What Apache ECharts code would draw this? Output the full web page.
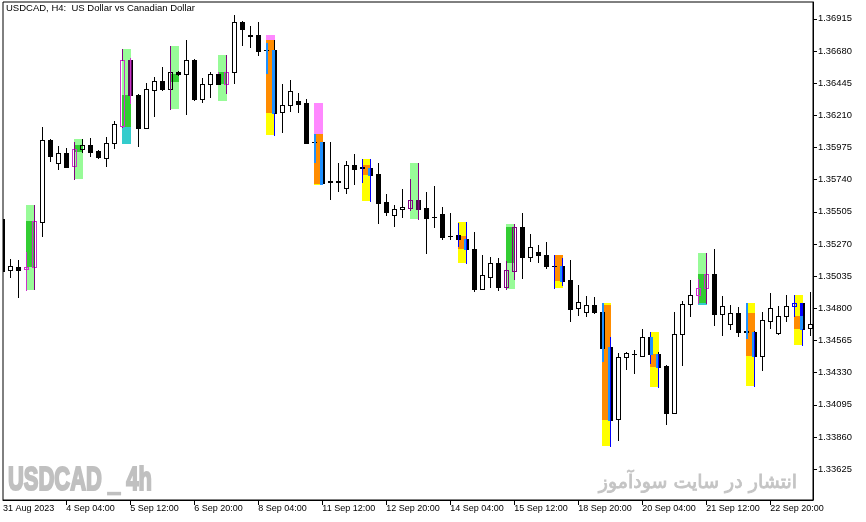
<!DOCTYPE html>
<html><head><meta charset="utf-8">
<script src="https://cdn.jsdelivr.net/npm/echarts@6/dist/echarts.min.js"></script>
<style>html,body{margin:0;padding:0;background:#fff}#c{width:866px;height:522px}</style>
</head><body><div id="c"></div>
<script>
// ---- data ----
const tickBars = [0, 8, 16, 24, 32, 40, 48, 56, 64, 72, 80, 88, 96];
const tickLabels = ['31 Aug 2023','4 Sep 04:00','5 Sep 12:00','6 Sep 20:00','8 Sep 04:00','11 Sep 12:00','12 Sep 20:00','14 Sep 04:00','15 Sep 12:00','18 Sep 20:00','20 Sep 04:00','21 Sep 12:00','22 Sep 20:00'];
const priceTicks = [1.33625,1.33860,1.34095,1.34330,1.34565,1.34800,1.35035,1.35270,1.35505,1.35740,1.35975,1.36210,1.36445,1.36680,1.36915];

const opens = [1.35453,1.35078,1.35100,1.35085,1.35100,1.35433,1.36030,1.35860,1.35933,1.35840,
1.35964,1.35994,1.35950,1.35896,1.36006,1.36135,1.36613,1.36359,1.36120,1.36396,
1.36459,1.36401,1.36530,1.36513,1.36615,1.36332,1.36437,1.36513,1.36442,1.36525,
1.36891,1.36794,1.36798,1.36688,1.36688,1.36233,1.36284,1.36318,1.36301,1.36016,
1.36016,1.35727,1.35727,1.35677,1.35847,1.35829,1.35828,1.35782,1.35575,1.35480,
1.35524,1.35535,1.35592,1.35531,1.35467,1.35489,1.35332,1.35336,1.35307,1.35233,
1.34943,1.35031,1.35129,1.34958,1.35075,1.35394,1.35177,1.35212,1.35190,1.35113,
1.35111,1.35007,1.34800,1.34771,1.34822,1.34773,1.34519,1.33989,1.34442,1.34470,
1.34453,1.34590,1.34468,1.34378,1.34037,1.34610,1.34829,1.34895,1.34946,1.35051,
1.34760,1.34683,1.34763,1.34634,1.34627,1.34453,1.34707,1.34617,1.34744,1.34815,
1.34839,1.34654];
const highs = [1.35460,1.35160,1.35153,1.35214,1.35555,1.36127,1.36038,1.35989,1.35970,1.36018,
1.36038,1.36047,1.35957,1.36054,1.36171,1.36695,1.36630,1.36367,1.36445,1.36489,
1.36562,1.36720,1.36535,1.36761,1.36622,1.36483,1.36530,1.36527,1.36652,1.36944,
1.36900,1.36864,1.36891,1.36739,1.36761,1.36440,1.36469,1.36374,1.36332,1.36076,
1.36018,1.36016,1.35862,1.35879,1.35928,1.35891,1.35891,1.35862,1.35636,1.35555,
1.35672,1.35745,1.35862,1.35650,1.35694,1.35540,1.35494,1.35426,1.35431,1.35358,
1.35190,1.35175,1.35170,1.35146,1.35416,1.35497,1.35343,1.35263,1.35285,1.35190,
1.35170,1.35153,1.34970,1.34888,1.34880,1.34837,1.34592,1.34471,1.34483,1.34495,
1.34649,1.34627,1.34480,1.34383,1.34773,1.34853,1.35007,1.35012,1.35204,1.35233,
1.34890,1.34824,1.34809,1.34839,1.34634,1.34773,1.34914,1.34817,1.34897,1.34897,
1.34841,1.34919];
const lows = [1.35073,1.35031,1.34885,1.34934,1.34941,1.35331,1.35879,1.35816,1.35829,1.35745,
1.35943,1.35913,1.35899,1.35842,1.35972,1.36125,1.36303,1.35989,1.36114,1.36208,
1.36396,1.36259,1.36505,1.36218,1.36323,1.36308,1.36347,1.36440,1.36376,1.36449,
1.36725,1.36712,1.36652,1.36522,1.36067,1.36091,1.36244,1.36237,1.36008,1.35872,
1.35709,1.35601,1.35657,1.35643,1.35709,1.35723,1.35584,1.35426,1.35484,1.35404,
1.35470,1.35519,1.35453,1.35206,1.35392,1.35307,1.35304,1.35258,1.35131,1.34929,
1.34938,1.34958,1.34934,1.34941,1.35014,1.35021,1.35146,1.35141,1.35097,1.34951,
1.34970,1.34709,1.34751,1.34746,1.34763,1.34415,1.33796,1.33837,1.34358,1.34329,
1.34451,1.34398,1.34225,1.33952,1.34035,1.34388,1.34744,1.34837,1.34837,1.34680,
1.34607,1.34651,1.34597,1.34585,1.34234,1.34349,1.34654,1.34615,1.34709,1.34744,
1.34532,1.34607];
const closes = [1.35075,1.35107,1.35082,1.35100,1.35438,1.36030,1.35915,1.35933,1.35835,1.35964,
1.35994,1.35945,1.35904,1.36006,1.36145,1.36613,1.36359,1.36120,1.36401,1.36459,
1.36401,1.36530,1.36513,1.36615,1.36328,1.36437,1.36513,1.36442,1.36525,1.36891,
1.36844,1.36790,1.36683,1.36686,1.36228,1.36284,1.36388,1.36296,1.36011,1.36012,
1.35716,1.35723,1.35723,1.35845,1.35820,1.35826,1.35774,1.35572,1.35502,1.35524,
1.35538,1.35592,1.35524,1.35462,1.35464,1.35323,1.35328,1.35304,1.35233,1.34941,
1.35041,1.35129,1.34958,1.35080,1.35394,1.35177,1.35248,1.35187,1.35111,1.35109,
1.35000,1.34797,1.34844,1.34822,1.34771,1.34512,1.33983,1.34444,1.34471,1.34466,
1.34588,1.34464,1.34371,1.34037,1.34610,1.34829,1.34895,1.34946,1.35051,1.34760,
1.34815,1.34763,1.34629,1.34630,1.34451,1.34714,1.34800,1.34741,1.34815,1.34839,
1.34651,1.34683];

// indicator zones: [first bar of pattern, zone kind, top price, bottom price]
const zones = [
 [3,'gOuter',1.35555,1.34934],[3,'gCore',1.35438,1.35102],
 [9,'gOuter',1.36038,1.35745],[9,'gCore',1.35994,1.35943],
 [15,'gOuter',1.36695,1.36359],[15,'gCore',1.36359,1.36123],[15,'gTail',1.36123,1.36003],
 [21,'gOuter',1.36720,1.36259],[21,'gCore',1.36513,1.36456],
 [27,'gOuter',1.36652,1.36318],[27,'gCore',1.36527,1.36437],
 [33,'rCap',1.36798,1.36761],[33,'rCore',1.36761,1.36228],[33,'rOuter',1.36228,1.36067],
 [39,'rCap',1.36301,1.36076],[39,'rCore',1.36076,1.35711],[39,'rOuter',1.35711,1.35701],
 [45,'rOuter',1.35891,1.35584],[45,'rCore',1.35847,1.35774],
 [51,'gOuter',1.35862,1.35453],
 [57,'rOuter',1.35431,1.35131],[57,'rCore',1.35331,1.35233],
 [63,'gOuter',1.35416,1.34941],[63,'gCore',1.35396,1.35129],
 [69,'rCore',1.35190,1.35000],[69,'rOuter',1.35000,1.34951],
 [75,'rOuter',1.34837,1.33796],[75,'rCore',1.34824,1.33983],
 [81,'rOuter',1.34627,1.34225],[81,'rCore',1.34464,1.34371],
 [87,'gOuter',1.35204,1.35051],[87,'gCore',1.35051,1.34837],[87,'gTail',1.34837,1.34824],
 [93,'rOuter',1.34839,1.34234],[93,'rCore',1.34766,1.34451],
 [99,'rOuter',1.34897,1.34532],[99,'rCore',1.34744,1.34651]
];
// indicator edge marks: [first bar, side, kind, top price, bottom price]
const edges = [
 [3,'L','mag',1.35214,1.34934],[3,'R','pur',1.35555,1.34941],
 [9,'L','pur',1.36018,1.35745],
 [15,'L','pur',1.36695,1.36615],[15,'R','mag',1.36630,1.36303],
 [21,'L','pur',1.36720,1.36259],
 [27,'R','pur',1.36652,1.36376],
 [33,'L','dodger',1.36739,1.36522],[33,'RB','dodger',1.36688,1.36228],[33,'R','blue',1.36228,1.36067],
 [39,'L','dodger',1.36076,1.35872],[39,'RB','dodger',1.36016,1.35711],
 [45,'L','blue',1.35891,1.35723],[45,'RB','dodger',1.35828,1.35774],[45,'R','blue',1.35891,1.35584],
 [51,'L','pur',1.35745,1.35519],[51,'R','pur',1.35862,1.35453],
 [57,'L','blue',1.35426,1.35258],[57,'RB','dodger',1.35307,1.35233],[57,'R','blue',1.35431,1.35131],
 [63,'L','pur',1.35146,1.34941],[63,'R','pur',1.35416,1.35014],
 [69,'L','blue',1.35190,1.34951],[69,'RB','dodger',1.35111,1.35000],[69,'R','blue',1.35170,1.34970],
 [75,'L','dodger',1.34837,1.34415],[75,'RB','dodger',1.34519,1.33983],[75,'R','blue',1.34592,1.33796],
 [81,'L','blue',1.34627,1.34398],[81,'LB','dodger',1.34590,1.34464],[81,'RB','dodger',1.34468,1.34371],[81,'R','blue',1.34468,1.34225],
 [87,'L','mag',1.35012,1.34837],[87,'R','pur',1.35204,1.34837],
 [93,'L','dodger',1.34839,1.34585],[93,'RB','dodger',1.34627,1.34451],[93,'R','blue',1.34627,1.34234],
 [99,'L','blue',1.34897,1.34744],[99,'RB','blue',1.34839,1.34744],[99,'RB','dodger',1.34744,1.34651],[99,'R','blue',1.34651,1.34532]
];

// ---- styles ----
const MAG = '#CC33CC', PUR = '#800080';
const zoneColors = {gOuter:'#98FB98', gCore:'#32CD32', gTail:'#33CCCC', rOuter:'#FFFF00', rCore:'#FF8C00', rCap:'#FF88FF'};
const edgeColors = {mag:MAG, pur:PUR, dodger:'#1E90FF', blue:'#0000FF'};
const candleLook = {
 3:{line:MAG}, 4:{line:MAG, wick:PUR}, 9:{line:MAG}, 15:{line:MAG, wick:PUR},
 16:{fill:'#5C0F5C'}, 27:{line:MAG}, 28:{line:MAG, wick:PUR},
 51:{line:PUR}, 52:{fill:'#4A0A4A'}, 63:{line:PUR}, 64:{line:PUR},
 87:{line:MAG}, 88:{line:MAG}, 99:{line:'#0000FF'}
};

const bars = opens.map((o, i) => [i, o, highs[i], lows[i], closes[i]]);
const chart = echarts.init(document.getElementById('c'), null, {renderer: 'canvas'});
const FONT = 'Liberation Sans';

function px(api, k, p) { return api.coord([k, p]); }

function renderCandle(params, api) {
  const k = api.value(0), o = api.value(1), h = api.value(2), l = api.value(3), c = api.value(4);
  const cx = Math.floor(px(api, k, o)[0] + 1e-6);
  const yH = Math.round(px(api, k, h)[1]), yL = Math.round(px(api, k, l)[1]);
  const yO = px(api, k, o)[1], yC = px(api, k, c)[1];
  const look = candleLook[k] || {};
  const line = look.line || '#000';
  const wick = look.wick || line;
  const top = Math.round(Math.min(yO, yC)), bot = Math.round(Math.max(yO, yC));
  const ch = [];
  const R = (x, y, w, hh, f) => ch.push({type: 'rect', shape: {x: x, y: y, width: w, height: hh}, style: {fill: f}});
  if (bot - top < 1) {
    R(cx, yH, 1, yL - yH + 1, wick);
    R(cx - 2, top, 5, 1, line);
  } else if (c < o) {
    R(cx, yH, 1, yL - yH + 1, wick);
    R(cx - 2, top, 5, bot - top + 1, look.fill || '#000');
    if (look.fill) R(cx + 2, top, 1, bot - top + 1, '#000');
  } else {
    if (top > yH) R(cx, yH, 1, top - yH, wick);
    if (yL > bot) R(cx, bot + 1, 1, yL - bot, wick);
    R(cx - 2, top, 5, 1, line);
    R(cx - 2, bot, 5, 1, line);
    R(cx - 2, top, 1, bot - top + 1, line);
    R(cx + 2, top, 1, bot - top + 1, line);
  }
  return {type: 'group', children: ch};
}

function renderZone(params, api) {
  const z = zones[params.dataIndex];
  const k = api.value(0);
  const x0 = Math.floor(px(api, k, api.value(1))[0] + 1e-6);
  const x1 = Math.floor(px(api, k + 1, api.value(1))[0] + 1e-6);
  const yT = Math.round(px(api, k, api.value(1))[1]);
  const yB = Math.round(px(api, k, api.value(2))[1]);
  return {type: 'rect', shape: {x: x0, y: yT, width: x1 + 1 - x0, height: Math.max(1, yB - yT)}, style: {fill: zoneColors[z[1]]}};
}

function renderEdge(params, api) {
  const e = edges[params.dataIndex];
  const k = api.value(0);
  const x0 = Math.floor(px(api, k, api.value(1))[0] + 1e-6);
  const x1 = Math.floor(px(api, k + 1, api.value(1))[0] + 1e-6);
  const yT = Math.round(px(api, k, api.value(1))[1]);
  const yB = Math.round(px(api, k, api.value(2))[1]);
  let x, w;
  if (e[1] === 'L') { x = x0; w = e[2] === 'dodger' ? 2 : 1; }
  else if (e[1] === 'LB') { x = x0; w = 3; }
  else if (e[1] === 'RB') { x = x1 - 2; w = 3; }
  else { x = x1; w = 1; }
  return {type: 'rect', shape: {x: x, y: yT, width: w, height: yB - yT + 1}, style: {fill: edgeColors[e[2]]}};
}

const labelValues = [0.1].concat(tickBars.slice(1));

chart.setOption({
  animation: false,
  backgroundColor: '#fff',
  grid: {left: 3, right: 53, top: 2, bottom: 22, show: true, borderColor: '#000', borderWidth: 1},
  xAxis: {
    type: 'value', min: 0.0875, max: 101.3375,
    axisLine: {show: true, lineStyle: {color: '#000', width: 1}},
    axisTick: {show: true, customValues: tickBars.slice(1), length: 5, lineStyle: {color: '#000'}},
    axisLabel: {customValues: labelValues, align: 'left', margin: 4, fontSize: 9, fontFamily: FONT, color: '#000',
      formatter: v => tickLabels[tickBars.indexOf(Math.round(v))] || ''},
    splitLine: {show: false}
  },
  yAxis: {
    type: 'value', position: 'right', min: 1.33400, max: 1.37038,
    axisLine: {show: true, lineStyle: {color: '#000', width: 1}},
    axisTick: {show: true, customValues: priceTicks, length: 4, lineStyle: {color: '#000'}},
    axisLabel: {customValues: priceTicks, margin: 5, fontSize: 9.4, fontFamily: FONT, color: '#000',
      formatter: v => v.toFixed(5)},
    splitLine: {show: false}
  },
  graphic: [
    {type: 'text', x: 6, y: 3, style: {text: 'USDCAD, H4:  US Dollar vs Canadian Dollar', fontSize: 9.5, fontFamily: FONT, fill: '#000', verticalAlign: 'top'}},
    {type: 'text', x: 8, y: 481, scaleX: 0.645, style: {text: 'USDCAD _ 4h', fontSize: 34, fontWeight: 'bold', fontFamily: FONT, fill: '#C0C0C0', stroke: '#C0C0C0', lineWidth: 2.2, verticalAlign: 'middle'}},
    {type: 'text', x: 797, y: 483, style: {text: 'انتشار در سایت سودآموز', fontSize: 19, fontFamily: 'DejaVu Sans', fill: '#C4C4C4', stroke: '#C4C4C4', lineWidth: 0.8, align: 'right', verticalAlign: 'middle'}}
  ],
  series: [
    {type: 'custom', name: 'zones', renderItem: renderZone, clip: true, z: 2, silent: true,
      data: zones.map(z => [z[0], z[2], z[3]])},
    {type: 'custom', name: 'USDCAD', renderItem: renderCandle, clip: true, z: 3, silent: true,
      data: bars},
    {type: 'custom', name: 'edges', renderItem: renderEdge, clip: true, z: 4, silent: true,
      data: edges.map(e => [e[0], e[3], e[4]])}
  ]
});
</script></body></html>
